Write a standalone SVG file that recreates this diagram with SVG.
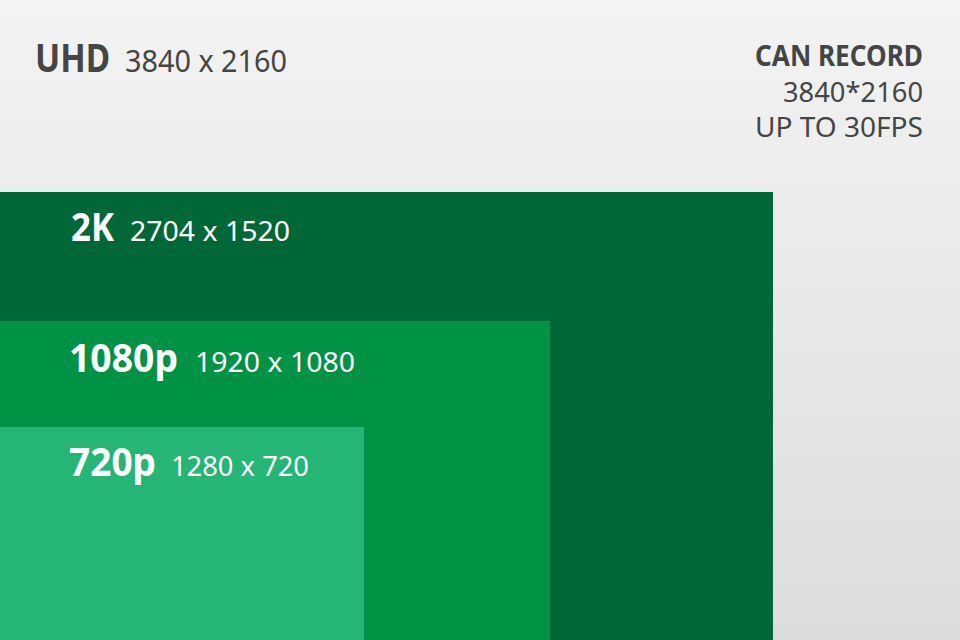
<svg xmlns="http://www.w3.org/2000/svg" width="960" height="640" viewBox="0 0 960 640">
<defs>
<linearGradient id="bg" x1="0" y1="0" x2="0" y2="1">
<stop offset="0" stop-color="#f3f3f3"/>
<stop offset="1" stop-color="#dcdcdc"/>
</linearGradient>
<style>
text{font-family:"Noto Sans","Open Sans","DejaVu Sans",sans-serif}
.b{font-weight:bold}
.g{fill:#454545}
.w{fill:#ffffff}
.big{font-size:39px}
.sm{font-size:28px}
</style>
</defs>
<rect x="0" y="0" width="960" height="640" fill="url(#bg)"/>
<g id="uhd">
<text class="b g big" x="35" y="72" textLength="75" lengthAdjust="spacingAndGlyphs">UHD</text>
<text class="g" style="font-size:30px" x="125" y="72" textLength="162" lengthAdjust="spacingAndGlyphs">3840 x 2160</text>
</g>
<g id="can-record">
<text class="b g sm" x="755" y="66" textLength="168" lengthAdjust="spacingAndGlyphs">CAN RECORD</text>
<text class="g sm" x="783" y="102" textLength="140" lengthAdjust="spacingAndGlyphs">3840*2160</text>
<text class="g sm" x="755" y="137" textLength="168" lengthAdjust="spacingAndGlyphs">UP TO 30FPS</text>
</g>
<g id="r2k">
<rect x="0" y="192" width="773" height="448" fill="#006837"/>
<text class="b w big" x="71" y="241" textLength="43" lengthAdjust="spacingAndGlyphs">2K</text>
<text class="w sm" x="130" y="241" textLength="160" lengthAdjust="spacingAndGlyphs">2704 x 1520</text>
</g>
<g id="r1080p">
<rect x="0" y="321" width="550" height="319" fill="#009245"/>
<text class="b w big" x="69" y="372" textLength="109" lengthAdjust="spacingAndGlyphs">1080p</text>
<text class="w sm" x="195" y="372" textLength="160" lengthAdjust="spacingAndGlyphs">1920 x 1080</text>
</g>
<g id="r720p">
<rect x="0" y="427" width="364" height="213" fill="#25b574"/>
<text class="b w big" x="69" y="476" textLength="87" lengthAdjust="spacingAndGlyphs">720p</text>
<text class="w sm" x="171" y="476" textLength="138" lengthAdjust="spacingAndGlyphs">1280 x 720</text>
</g>
<g id="connectors"/>
</svg>
